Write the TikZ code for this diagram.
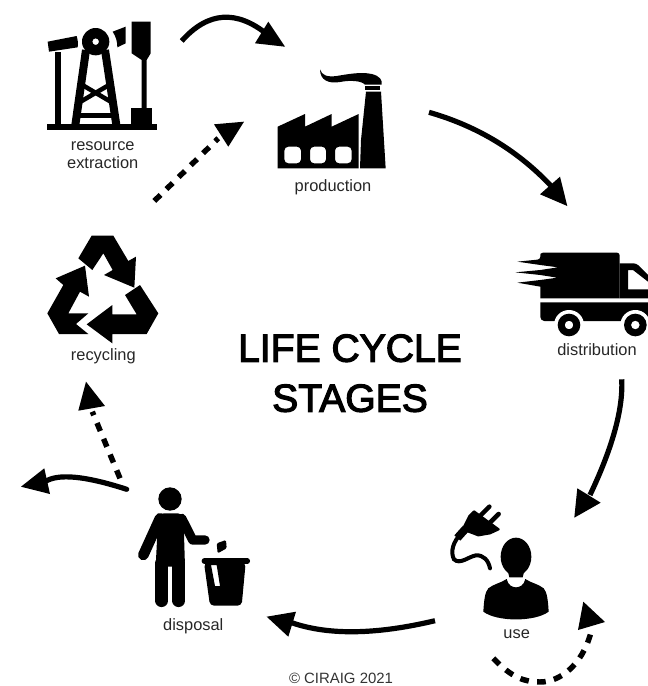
\documentclass[tikz,border=0pt]{standalone}
\usepackage{fontspec}
\setmainfont{Liberation Sans}
\newfontfamily\titlefont[FakeBold=3]{Liberation Sans}
\tikzset{
  stagelabel/.style={anchor=base,inner sep=0pt,text=black!85,font=\fontsize{12.3}{14}\selectfont},
  titlelabel/.style={anchor=base,inner sep=0pt,text=black,font=\titlefont\fontsize{29.3}{32}\selectfont},
  creditlabel/.style={anchor=base,inner sep=0pt,text=black!80,font=\fontsize{11.2}{13}\selectfont},
  solidarc/.style={draw=black,line width=3.9pt},
  dashedarc/.style={draw=black,line width=4.1pt,dash pattern=on 6.5pt off 6.3pt},
  headfill/.style={fill=black,draw=none},
  icon/.style={shift={#1},x=0.25pt,y=-0.25pt},
}
\begin{document}
\begin{tikzpicture}[x=0.75pt,y=-0.75pt]
\useasboundingbox (0,0) rectangle (648,686);

% ---------- pump jack
\begin{scope}[icon={(30,10)}]
  \fill (52,342) rectangle (380,360);
  \fill (75,125) rectangle (93,345);
  \fill (53,95) -- (140,78) .. controls (143,88) and (145,100) .. (143,112) -- (57,125) -- cycle;
  \fill (248,65) -- (287,50) -- (287,100) -- (262,112) .. controls (262,95) and (258,80) .. (248,65) -- cycle;
  \draw[line width=6pt] (168,120) -- (136,345);
  \draw[line width=6pt] (225,120) -- (259,345);
  \fill[even odd rule] (197,95) circle (41) (197,95) circle (10);
  \fill (145,308) rectangle (250,325);
  \draw[line width=3.4pt] (152,222) -- (242,275);
  \draw[line width=3.4pt] (242,222) -- (152,275);
  \fill (305,35) -- (362,35) -- (362,130) -- (350,150) -- (350,295) -- (335,295) -- (335,150) -- (305,130) -- cycle;
  \fill (303,293) rectangle (365,345);
\end{scope}

% ---------- factory
\begin{scope}[icon={(265,60)}]
  \fill[even odd rule] (38,200) -- (120,162) -- (120,200) -- (200,162) -- (200,200) -- (281,162) -- (281,325) -- (38,325) -- cycle
    [rounded corners=3pt] (58,260) rectangle (108,310) (135,260) rectangle (183,310) (210,260) rectangle (260,310);
  \fill (303,95) -- (348,95) -- (362,325) -- (285,325) -- (288,240) -- cycle;
  \fill (300,78) rectangle (346,90);
  \fill (165,28) .. controls (170,45) and (185,52) .. (215,48) .. controls (250,42) and (290,35) .. (320,42)
     .. controls (345,48) and (352,60) .. (350,74) -- (300,74) .. controls (290,62) and (255,60) .. (225,66)
     .. controls (190,72) and (165,60) .. (165,28) -- cycle;
\end{scope}

% ---------- truck
\begin{scope}[icon={(508,240)}]
  \fill[rounded corners=2pt] (97,48) -- (97,58) [sharp corners] -- (28,65) -- (97,75) -- (150,82) -- (97,90) -- (22,97) -- (97,105)
     -- (148,113) -- (97,120) -- (28,128) -- (97,140) -- (97,175) -- (335,175) [rounded corners=2pt] -- (335,38) -- (97,38) -- cycle;
  \fill[even odd rule] (335,70) [rounded corners=2pt] -- (385,70) [sharp corners] -- (420,105) -- (420,175) -- (335,175) -- cycle
     (360,90) -- (375,90) -- (420,125) -- (420,148) -- (360,148) -- cycle;
  \fill[rounded corners=3pt] (97,187) -- (97,243) -- (420,243) [sharp corners] -- (420,187) -- cycle;
  \fill[white] (183,255) circle (45);
  \fill[white] (382,255) circle (45);
  \fill[even odd rule] (183,255) circle (34) (183,255) circle (13);
  \fill[even odd rule] (382,255) circle (34) (382,255) circle (13);
\end{scope}

% ---------- person and plug
\begin{scope}[icon={(440,500)}]
  \fill (228,170) ellipse (46 and 57);
  \fill (200,200) -- (256,200) -- (248,232) -- (208,232) -- cycle;
  \fill (130,335) .. controls (132,300) and (135,276) .. (145,265) .. controls (160,252) and (183,249) .. (200,237)
     .. controls (204,255) and (216,262) .. (228,262) .. controls (240,262) and (252,255) .. (256,237)
     .. controls (273,249) and (296,252) .. (311,265) .. controls (321,276) and (324,300) .. (326,335)
     .. controls (285,366) and (171,366) .. (130,335) -- cycle;
  \filldraw[line width=1.6pt,line join=round] (72,80) -- (88,48) -- (102,34) -- (176,88) -- (150,100) -- (115,106) -- (78,92) -- cycle;
  \draw[line width=3.4pt,line cap=round] (148,20) -- (118,50);
  \draw[line width=3.4pt,line cap=round] (176,42) -- (146,72);
  \draw[line width=6pt] (78,85) -- (52,114);
  \draw[line width=3pt,line cap=round] (62,102) .. controls (40,125) and (30,155) .. (42,178)
     .. controls (60,195) and (85,170) .. (108,166) .. controls (130,165) and (145,180) .. (150,205);
\end{scope}

% ---------- disposal
\begin{scope}[icon={(125,480)}]
  \fill (135,57) circle (35);
  \fill[rounded corners=4pt] (100,100) -- (175,100) -- (180,260) -- (92,260) -- cycle;
  \draw[line width=8pt,line cap=round,line join=round] (105,115) -- (55,225);
  \draw[line width=7pt,line cap=round,line join=round] (170,115) -- (203,180) -- (240,180);
  \draw[line width=9.6pt,line cap=round] (110,250) -- (110,362);
  \draw[line width=9.6pt,line cap=round] (161,250) -- (161,362);
  \fill[rounded corners=1pt] (275,190) -- (303,180) -- (305,205) -- (278,220) -- cycle;
  \draw[line width=4.1pt,line cap=round] (238,243) -- (367,243);
  \fill[even odd rule,rounded corners=3pt] (237,248) -- (255,377) -- (350,377) -- (362,248) -- cycle
    [sharp corners] (258,255) -- (275,255) -- (285,318) -- (270,318) -- cycle;
\end{scope}

% ---------- recycling
\begin{scope}[icon={(35,225)}]
  \fill (170,32) -- (235,32) -- (280,108) -- (303,95) -- (298,188) -- (207,150) -- (233,135) -- (205,85) -- (172,135) -- (130,100) -- cycle;
  \fill (62,160) -- (150,122) -- (162,215) -- (135,200) -- (100,265) -- (160,265) -- (123,297) -- (160,327) -- (72,327) -- (37,265) -- (85,180) -- cycle;
  \fill (155,298) -- (232,240) -- (232,268) -- (305,268) -- (270,210) -- (315,180) -- (370,265) -- (335,327) -- (232,327) -- (232,355) -- cycle;
\end{scope}

% ---------- labels
\node[stagelabel] (lresource) at (102.7,150.7) {resource};
\node[stagelabel] (lextraction) at (102.7,168) {extraction};
\node[stagelabel] (lproduction) at (333,191.7) {production};
\node[stagelabel] (ldistribution) at (597,355) {distribution};
\node[stagelabel] (luse) at (516.7,638.3) {use};
\node[stagelabel] (ldisposal) at (193.3,630) {disposal};
\node[stagelabel] (lrecycling) at (103.3,360) {recycling};
\node[titlelabel] (ttop) at (350,361.7) {LIFE CYCLE};
\node[titlelabel] (tbottom) at (350,411.7) {STAGES};
\node[creditlabel] (credit) at (341,683) {© CIRAIG 2021};

% ---------- connector ends
\coordinate (a1s) at (181.7,41);   \coordinate (a1e) at (268,35);
\coordinate (a1t) at (285,46.7);   \coordinate (a1l) at (268.3,21.7); \coordinate (a1r) at (255,43.3);
\coordinate (a2s) at (429,112.3);  \coordinate (a2e) at (553,188);
\coordinate (a2t) at (567.3,206);  \coordinate (a2l) at (560,176.7);  \coordinate (a2r) at (540,194.3);
\coordinate (a3s) at (621.7,379.3);\coordinate (a3e) at (590,495);
\coordinate (a3t) at (574.3,517.7);\coordinate (a3l) at (577.3,488.3);\coordinate (a3r) at (600.7,502.7);
\coordinate (a4s) at (435,620.7);  \coordinate (a4e) at (291.7,622.7);
\coordinate (a4t) at (266.7,616.7);\coordinate (a4l) at (296,611.7);  \coordinate (a4r) at (288.3,636.7);
\coordinate (a5s) at (126.7,489.3);\coordinate (a5e) at (45,481.7);
\coordinate (a5t) at (21,486.7);   \coordinate (a5l) at (44.3,468.3); \coordinate (a5r) at (50,494);
\coordinate (a6s) at (120,478.3);  \coordinate (a6e) at (92.3,411.7);
\coordinate (a6t) at (86,381.7);   \coordinate (a6l) at (78.3,410.7); \coordinate (a6r) at (105,406);
\coordinate (a7s) at (154.3,201);  \coordinate (a7e) at (218.3,138.3);
\coordinate (a7t) at (244,121.7);  \coordinate (a7l) at (214,124.3);  \coordinate (a7r) at (228.3,146.7);
\coordinate (a8s) at (493.3,658.3);\coordinate (a8m) at (540,682);    \coordinate (a8e) at (590.7,633.3);
\coordinate (a8t) at (583.3,601.7);\coordinate (a8l) at (605,622);    \coordinate (a8r) at (578,630);

% ---------- connectors
\draw[solidarc] (a1s) .. controls (208,11.4) and (236.8,9.4) .. (a1e);
\fill[headfill] (a1t) -- (a1l) -- (a1r) -- cycle;
\draw[solidarc] (a2s) .. controls (478,126.3) and (519.3,151.5) .. (a2e);
\fill[headfill] (a2t) -- (a2l) -- (a2r) -- cycle;
\draw[solidarc] (a3s) .. controls (623.3,408.3) and (612.8,446.9) .. (a3e);
\fill[headfill] (a3t) -- (a3l) -- (a3r) -- cycle;
\draw[solidarc] (a4s) .. controls (376.1,634.7) and (328.3,635.4) .. (a4e);
\fill[headfill] (a4t) -- (a4l) -- (a4r) -- cycle;
\draw[solidarc,line cap=round] (a5s) .. controls (85,475.8) and (57.8,473.3) .. (a5e);
\fill[headfill] (a5t) -- (a5l) -- (a5r) -- cycle;
\draw[dashedarc] (a6s) -- (a6e);
\fill[headfill] (a6t) -- (a6l) -- (a6r) -- cycle;
\draw[dashedarc] (a7s) -- (a7e);
\fill[headfill] (a7t) -- (a7l) -- (a7r) -- cycle;
\draw[dashedarc] (a8s) .. controls (512,678) and (525,682) .. (a8m) .. controls (560,682) and (582,665) .. (a8e);
\fill[headfill] (a8t) -- (a8l) -- (a8r) -- cycle;
\end{tikzpicture}
\end{document}
